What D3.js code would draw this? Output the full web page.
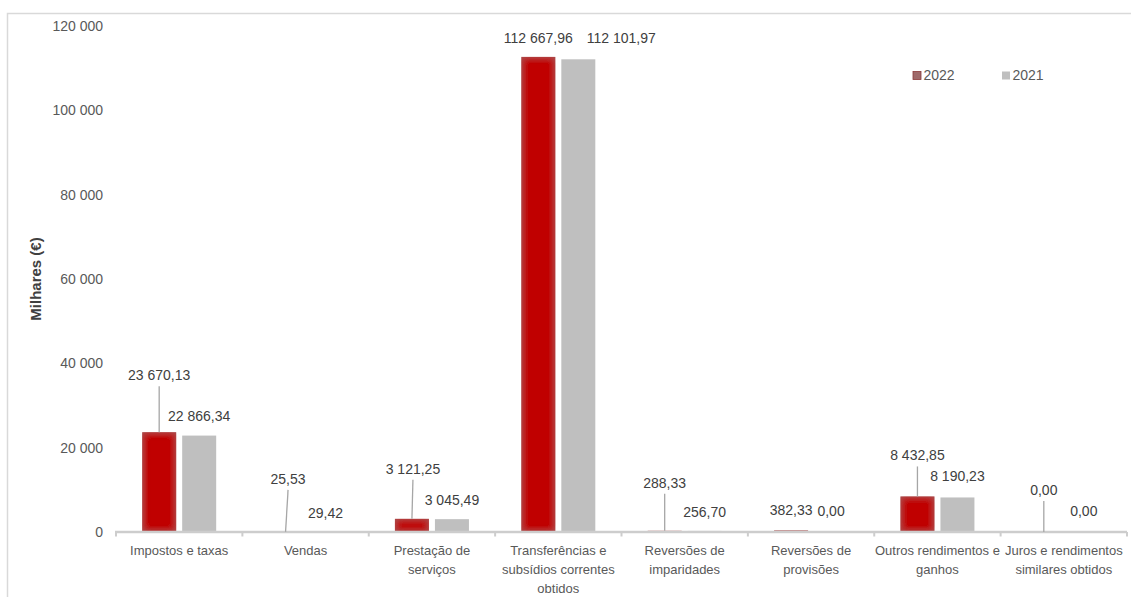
<!DOCTYPE html>
<html><head><meta charset="utf-8">
<script src="https://cdn.jsdelivr.net/npm/d3@7"></script>
<style>
html,body{margin:0;padding:0;background:#fff;}
svg{display:block;font-family:"Liberation Sans",Arial,sans-serif;}
</style></head>
<body>
<svg id="chart" width="1131" height="597"></svg>
<script>
// ---- data ----
const categories = ["Impostos e taxas","Vendas","Prestação de serviços","Transferências e subsídios correntes obtidos","Reversões de imparidades","Reversões de provisões","Outros rendimentos e ganhos","Juros e rendimentos similares obtidos"];
const categoryLines = [["Impostos e taxas"],["Vendas"],["Prestação de","serviços"],["Transferências e","subsídios correntes","obtidos"],["Reversões de","imparidades"],["Reversões de","provisões"],["Outros rendimentos e","ganhos"],["Juros e rendimentos","similares obtidos"]];
const series = ["2022","2021"];
const values2022 = [23670.13, 25.53, 3121.25, 112667.96, 288.33, 382.33, 8432.85, 0.00];
const values2021 = [22866.34, 29.42, 3045.49, 112101.97, 256.70, 0.00, 8190.23, 0.00];
const yTicks = [0, 20000, 40000, 60000, 80000, 100000, 120000];
const yTitle = "Milhares (€)";

// ---- layout (label placement as in the original) ----
const lift2022 = [57, 53, 50, 19, 48, 20, 41, 42];
const dx2022 = [0, 2.5, 1, 0, 0, 0, 0, 0];
const lift2021 = [19, 19, 19, 21, 19, 21, 21, 21];
const dx2021 = [0, 0, 0, 43, 0, 0, 0, 0];

const locale = d3.formatLocale({decimal: ",", thousands: " ", grouping: [3], currency: ["", "€"]});
const fmtVal = locale.format(",.2f");
const fmtTick = locale.format(",.0f");

const svg = d3.select("#chart");
const defs = svg.append("defs");
const f = defs.append("filter").attr("id","glow").attr("x",0).attr("y",0).attr("width",1).attr("height",1);
f.append("feGaussianBlur").attr("in","SourceGraphic").attr("stdDeviation",3.5).attr("result","b");
f.append("feComposite").attr("in","b").attr("in2","SourceAlpha").attr("operator","in").attr("result","c");
f.append("feFlood").attr("flood-color","#a35656").attr("result","fl");
f.append("feComposite").attr("in","fl").attr("in2","SourceAlpha").attr("operator","in").attr("result","base");
const m = f.append("feMerge");
m.append("feMergeNode").attr("in","base");
m.append("feMergeNode").attr("in","c");

// frame
svg.append("rect").attr("x",7.5).attr("y",13.5).attr("width",1200).attr("height",700)
  .attr("fill","none").attr("stroke","#d9d9d9").attr("stroke-width",1.5);

const x0 = d3.scaleBand().domain(categories).range([116, 1127]).paddingInner(0).paddingOuter(0);
const bw = x0.bandwidth();
const x1 = d3.scaleBand().domain(series).range([bw/2 - 37, bw/2 + 37]).paddingInner(0.15).paddingOuter(0);
const y = d3.scaleLinear().domain([0, 120000]).range([532, 26]);

// y tick labels
svg.append("g").selectAll("text").data(yTicks).join("text")
  .attr("x", 103).attr("y", d => y(d)).attr("dy","0.35em")
  .attr("text-anchor","end").attr("font-size",14).attr("fill","#595959")
  .text(d => fmtTick(d));

// y title
svg.append("text").attr("transform",`translate(41,${(y(0)+y(120000))/2}) rotate(-90)`)
  .attr("text-anchor","middle").attr("font-size",15).attr("font-weight","bold").attr("fill","#404040")
  .text(yTitle);

// bars
const data = categories.map((c,i) => ({c, i, v: [values2022[i], values2021[i]]}));
const groups = svg.append("g").selectAll("g").data(data).join("g")
  .attr("transform", d => `translate(${x0(d.c)},0)`);
groups.append("rect")
  .attr("x", x1("2021")).attr("width", x1.bandwidth())
  .attr("y", d => y(d.v[1])).attr("height", d => y(0) - y(d.v[1]))
  .attr("fill","#bfbfbf");
groups.append("rect")
  .attr("x", x1("2022")).attr("width", x1.bandwidth())
  .attr("y", d => y(d.v[0])).attr("height", d => y(0) - y(d.v[0]))
  .attr("fill","#c00000").attr("filter","url(#glow)");

// x axis
const axis = svg.append("g").attr("transform",`translate(0,${y(0)})`);
axis.append("line").attr("x1",115).attr("x2",1127).attr("y1",0).attr("y2",0)
  .attr("stroke","#cdcdcd").attr("stroke-width",2.5);
const bounds = categories.map(c => x0(c)).concat([x0.range()[1]]);
axis.selectAll("line.tk").data(bounds).join("line").attr("class","tk")
  .attr("x1", d => d).attr("x2", d => d).attr("y1",0).attr("y2",4.5)
  .attr("stroke","#cdcdcd").attr("stroke-width",2);

// category labels
const cl = svg.append("g").selectAll("text").data(categoryLines).join("text")
  .attr("text-anchor","middle").attr("font-size",13).attr("fill","#595959")
  .attr("transform", (d,i) => `translate(${x0(categories[i]) + bw/2},550)`);
cl.selectAll("tspan").data(d => d).join("tspan")
  .attr("x",0).attr("y",(d,j) => j*19).attr("dy","0.35em").text(d => d);

// value labels + leader lines
const lbl = svg.append("g");
data.forEach(d => {
  const cx22 = x0(d.c) + x1("2022") + x1.bandwidth()/2;
  const cx21 = x0(d.c) + x1("2021") + x1.bandwidth()/2;
  const ly22 = y(d.v[0]) - lift2022[d.i];
  const lx22 = cx22 + dx2022[d.i];
  if (lift2022[d.i] > 30) {
    lbl.append("line").attr("x1", lx22).attr("y1", ly22 + 11).attr("x2", cx22).attr("y2", y(d.v[0]))
      .attr("stroke","#a6a6a6").attr("stroke-width",1.3);
  }
  lbl.append("text").attr("x", lx22).attr("y", ly22).attr("dy","0.35em")
    .attr("text-anchor","middle").attr("font-size",14).attr("fill","#404040").text(fmtVal(d.v[0]));
  lbl.append("text").attr("x", cx21 + dx2021[d.i]).attr("y", y(d.v[1]) - lift2021[d.i]).attr("dy","0.35em")
    .attr("text-anchor","middle").attr("font-size",14).attr("fill","#404040").text(fmtVal(d.v[1]));
});

// legend
const legendColors = ["#9e6a6a", "#bfbfbf"];
const legendX = [913, 1002];
const lg = svg.append("g");
series.forEach((s,i) => {
  lg.append("rect").attr("x", legendX[i]).attr("y", 71.5).attr("width", 8).attr("height", 8)
    .attr("fill", legendColors[i]).attr("stroke", i === 0 ? "#8b3a3a" : "none").attr("stroke-width", 0.8);
  lg.append("text").attr("x", legendX[i] + 10.5).attr("y", 75.5).attr("dy","0.35em")
    .attr("font-size",14).attr("fill","#595959").text(s);
});
</script>
</body></html>
